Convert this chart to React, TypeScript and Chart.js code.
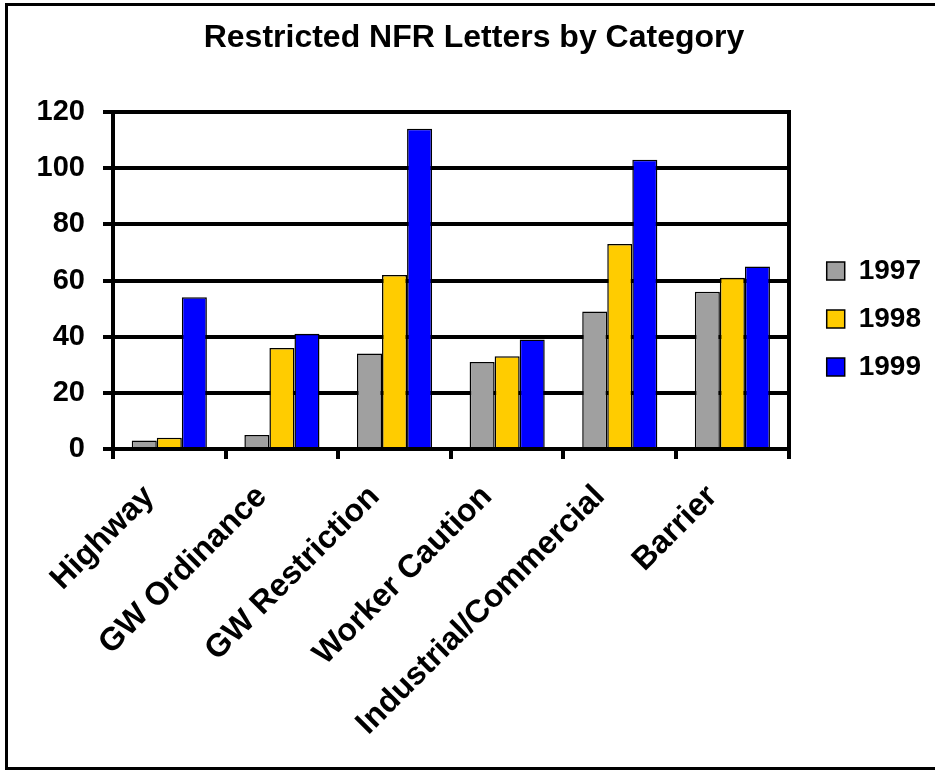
import React, { useEffect, useRef } from 'react';
import { Chart, registerables } from 'chart.js';

Chart.register(...registerables);

const categories = ['Highway', 'GW Ordinance', 'GW Restriction', 'Worker Caution', 'Industrial/Commercial', 'Barrier'];
const seriesNames = ['1997', '1998', '1999'];
const values1997 = [3, 5, 34, 31, 49, 56];
const values1998 = [4, 36, 62, 33, 73, 61];
const values1999 = [54, 41, 114, 39, 103, 65];
const yMin = 0;
const yMax = 120;
const yStep = 20;
const seriesColors = ['#a0a0a0', '#ffcc00', '#0000ff'];
const titleText = 'Restricted NFR Letters by Category';

const FONT = "'Liberation Sans', Arial, Helvetica, sans-serif";

export default function App() {
  const canvasRef = useRef<HTMLCanvasElement | null>(null);

  useEffect(() => {
    const canvas = canvasRef.current;
    if (!canvas) return;
    const seriesValues = [values1997, values1998, values1999];
    const chart = new Chart(canvas, {
      type: 'bar',
      data: {
        labels: categories,
        datasets: seriesNames.map((name, i) => ({
          label: name,
          data: seriesValues[i],
          backgroundColor: seriesColors[i],
          borderColor: '#000000',
          borderWidth: 1.5,
          categoryPercentage: 0.667,
          barPercentage: 1,
          yAxisID: 'y',
        })),
      },
      options: {
        responsive: false,
        maintainAspectRatio: false,
        animation: false,
        layout: { padding: { left: 17, right: 4, top: 0, bottom: 0 } },
        plugins: {
          title: {
            display: true,
            text: titleText,
            color: '#000000',
            font: { family: FONT, size: 32, weight: 'bold' },
            padding: { top: 19, bottom: 54.6 },
          },
          legend: {
            display: true,
            position: 'right',
            fullSize: false,
            align: 'center',
            title: {
              display: true,
              text: ' ',
              font: { size: 10, lineHeight: 1.1 },
              padding: 33,
            },
            labels: {
              color: '#000000',
              font: { family: FONT, size: 28, weight: 'bold' },
              boxWidth: 18,
              boxHeight: 18,
              padding: 20,
            },
          },
          tooltip: { enabled: false },
        },
        scales: {
          x: {
            offset: true,
            grid: {
              display: true,
              drawOnChartArea: false,
              offset: true,
              color: '#000000',
              lineWidth: 4,
              tickLength: 10,
            },
            border: { display: true, color: '#000000', width: 4 },
            ticks: {
              color: '#000000',
              font: { family: FONT, size: 32, weight: 'bold' },
              maxRotation: 45,
              minRotation: 45,
              autoSkip: false,
              padding: 19,
              labelOffset: -20,
            },
            afterFit: (scale: any) => {
              scale.height = 321;
            },
          },
          y: {
            min: yMin,
            max: yMax,
            position: 'left',
            grid: {
              color: '#000000',
              lineWidth: 4,
              tickLength: 10,
            },
            border: { display: true, color: '#000000', width: 4 },
            ticks: {
              stepSize: yStep,
              color: '#000000',
              font: { family: FONT, size: 29, weight: 'bold' },
              padding: 18,
            },
            afterFit: (scale: any) => {
              scale.width = 96;
            },
          },
          y2: {
            min: yMin,
            max: yMax,
            position: 'right',
            grid: { display: false },
            border: { display: true, color: '#000000', width: 4 },
            ticks: { display: false },
            afterFit: (scale: any) => {
              scale.width = 18;
            },
          },
        },
      },
    });
    return () => chart.destroy();
  }, []);

  return (
    <>
      <div
        style={{
          position: 'fixed',
          left: 5,
          top: 3,
          width: 945,
          height: 767,
          border: '3px solid #000',
          boxSizing: 'border-box',
          background: '#fff',
        }}
      />
      <div style={{ position: 'fixed', left: 0, top: 0, width: 935, height: 770 }}>
        <canvas ref={canvasRef} width={935} height={770} style={{ display: 'block' }} />
      </div>
    </>
  );
}
